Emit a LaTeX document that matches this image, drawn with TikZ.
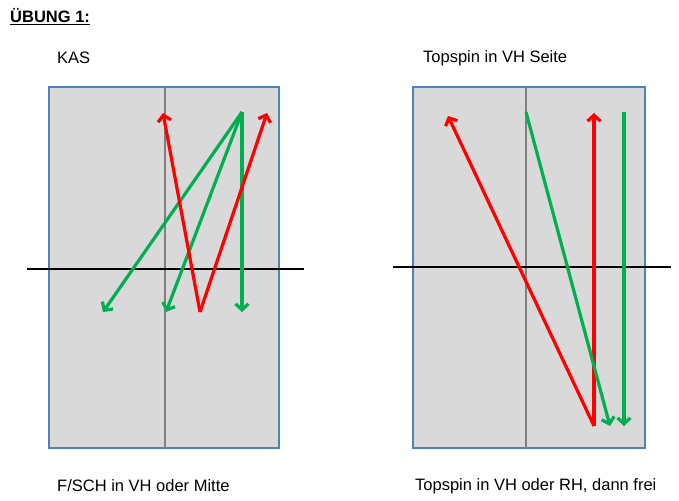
\documentclass[tikz,border=0pt]{standalone}
\usepackage{fontspec}
\setmainfont{Liberation Sans}
\usetikzlibrary{arrows.meta}
\definecolor{tblfill}{RGB}{217,217,217}
\definecolor{tblborder}{RGB}{79,129,189}
\definecolor{arred}{RGB}{255,0,0}
\definecolor{argreen}{RGB}{0,176,80}
\definecolor{midgray}{RGB}{128,128,128}
\tikzset{
  table/.style={fill=tblfill, draw=tblborder, line width=1.5pt},
  midline/.style={draw=midgray, line width=2pt},
  netline/.style={draw=black, line width=2pt},
  redarr/.style={draw=arred, line width=3.2pt, -{Straight Barb[length=6pt,width=13pt]}},
  greenarr/.style={draw=argreen, line width=3.2pt, -{Straight Barb[length=6pt,width=13pt]}},
  lbl/.style={font=\fontsize{16.5}{19}\selectfont, anchor=west, inner sep=0pt},
}
\begin{document}
\begin{tikzpicture}[x=1pt,y=-1pt]
\useasboundingbox (0,0) rectangle (679,500);
% title
\node[anchor=west, inner sep=0pt, font=\fontsize{16.5}{19}\selectfont\bfseries] (title) at (10,17) {\underline{ÜBUNG 1:}};
% labels
\node[lbl] (kas) at (57,58) {KAS};
\node[lbl] (top1) at (423,58) {Topspin in VH Seite};
\node[lbl] (fsch) at (57,486) {F/SCH in VH oder Mitte};
\node[lbl] (top2) at (415,486) {Topspin in VH oder RH, dann frei};
% left table
\draw[table] (49,87) rectangle (279,448);
\coordinate (lct) at (165,87);
\coordinate (lcb) at (165,448);
\draw[midline] (lct) -- (lcb);
\coordinate (lnl) at (27,269);
\coordinate (lnr) at (304,269);
\draw[netline] (lnl) -- (lnr);
% left arrows
\coordinate (gs) at (242,112);
\coordinate (g1) at (103,312);
\coordinate (g2) at (166,312);
\coordinate (g3) at (242,312);
\coordinate (rs) at (200,312);
\coordinate (r1) at (163,113);
\coordinate (r2) at (267,113);
\draw[greenarr] (gs) -- (g1);
\draw[greenarr] (gs) -- (g2);
\draw[greenarr] (gs) -- (g3);
\draw[redarr] (rs) -- (r1);
\draw[redarr] (rs) -- (r2);
% right table
\draw[table] (413,87) rectangle (645,448);
\coordinate (rct) at (526,87);
\coordinate (rcb) at (526,448);
\draw[midline] (rct) -- (rcb);
\coordinate (rnl) at (393,267);
\coordinate (rnr) at (671,267);
\draw[netline] (rnl) -- (rnr);
% right arrows
\coordinate (rr) at (594,426);
\coordinate (rr1) at (448,116);
\coordinate (rr2) at (594,113);
\coordinate (gg1s) at (526,112);
\coordinate (gg1e) at (610,426);
\coordinate (gg2s) at (624,112);
\coordinate (gg2e) at (624,426);
\draw[redarr] (rr) -- (rr1);
\draw[redarr] (rr) -- (rr2);
\draw[greenarr] (gg1s) -- (gg1e);
\draw[greenarr] (gg2s) -- (gg2e);
\end{tikzpicture}
\end{document}
